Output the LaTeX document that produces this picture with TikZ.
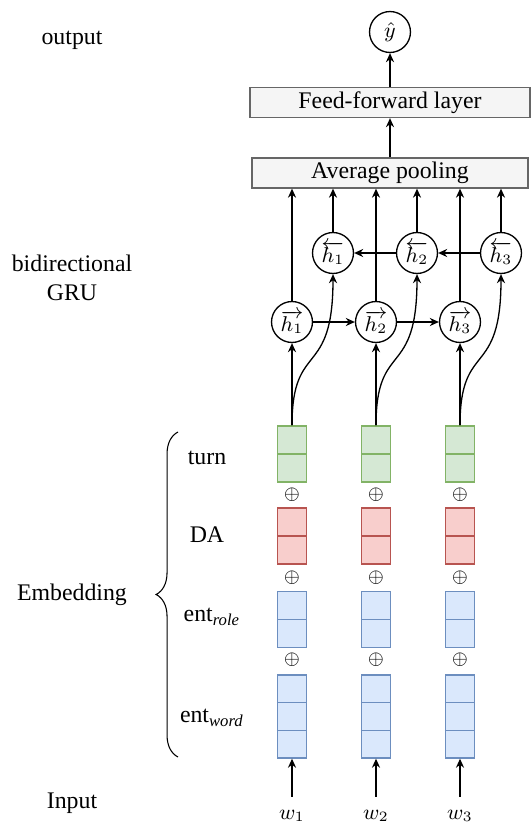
\documentclass[tikz,border=0pt]{standalone}
\usepackage{fontspec}
\setmainfont{Liberation Serif}
\usetikzlibrary{arrows.meta,decorations.pathreplacing}
\definecolor{grayf}{HTML}{F5F5F5}
\definecolor{grayd}{HTML}{666666}
\definecolor{greenf}{HTML}{D5E8D4}
\definecolor{greend}{HTML}{82B366}
\definecolor{redf}{HTML}{F8CECC}
\definecolor{redd}{HTML}{B85450}
\definecolor{bluef}{HTML}{DAE8FC}
\definecolor{blued}{HTML}{6C8EBF}

\begin{document}
\begin{tikzpicture}[x=0.42pt,y=-0.42pt,line width=0.55pt,
  txt/.style={font=\normalsize},
  mth/.style={font=\small},
  layer/.style={rectangle,draw=grayd,fill=grayf,minimum height=12.6pt,inner sep=0pt,txt},
  unit/.style={circle,draw,minimum size=17.2pt,inner sep=0pt,mth},
  vec/.style={rectangle,minimum width=12.2pt,inner sep=0pt},
  plus/.style={inner sep=0pt,font=\footnotesize},
  arr/.style={-{Stealth[length=3.8pt,width=3.4pt]}}]
\useasboundingbox (0,0) rectangle (531,827);
\node[unit] (yhat) at (390,32) {$\hat{y}$};
\node[layer,minimum width=117.6pt] (ff) at (390,102.5) {Feed-forward layer};
\node[layer,minimum width=115.9pt] (pool) at (390,173) {Average pooling};
\draw[arr] (ff) -- (yhat);
\draw[arr] (pool) -- (ff);
\foreach \i/\x in {1/292,2/376,3/460} {
  \node[unit] (f\i) at (\x,322) {$\overrightarrow{h_\i}$};
  \node[unit] (b\i) at (\x+41,253) {$\overleftarrow{h_\i}$};
  \node[vec,draw=greend,fill=greenf,minimum height=23.5pt] (t\i) at (\x,454) {};
  \draw[greend] (t\i.west) -- (t\i.east);
  \node[plus] (pa\i) at (\x,495) {$\oplus$};
  \node[vec,draw=redd,fill=redf,minimum height=23.5pt] (d\i) at (\x,536) {};
  \draw[redd] (d\i.west) -- (d\i.east);
  \node[plus] (pb\i) at (\x,578) {$\oplus$};
  \node[vec,draw=blued,fill=bluef,minimum height=23.5pt] (r\i) at (\x,619.5) {};
  \draw[blued] (r\i.west) -- (r\i.east);
  \node[plus] (pc\i) at (\x,660) {$\oplus$};
  \node[vec,draw=blued,fill=bluef,minimum height=34.9pt] (e\i) at (\x,716.5) {};
  \draw[blued] ([yshift=5.8pt]e\i.west) -- ([yshift=5.8pt]e\i.east)
    ([yshift=-5.8pt]e\i.west) -- ([yshift=-5.8pt]e\i.east);
  \node[mth] (w\i) at (\x,816) {$w_\i$};
  \draw[arr] ([yshift=2pt]w\i.north) -- (e\i);
  \draw[arr] (t\i.north) -- (f\i.south);
  \draw[arr] (t\i.north) .. controls +(0,-86) and +(0,106) .. (b\i.south);
  \draw[arr] (f\i.north) -- (f\i.north |- pool.south);
  \draw[arr] (b\i.north) -- (b\i.north |- pool.south);
}
\draw[arr] (f1) -- (f2);
\draw[arr] (f2) -- (f3);
\draw[arr] (b3) -- (b2);
\draw[arr] (b2) -- (b1);
% labels on the left
\node[txt] (lout) at (72,40) {output};
\node[txt,align=center] (lgru) at (72,278) {bidirectional\\GRU};
\node[txt] (lemb) at (72,595) {Embedding};
\node[txt] (lin) at (72,803) {Input};
\node[txt] (lturn) at (207,458) {turn};
\node[txt] (lda) at (207,535) {DA};
\node[txt] (lrole) at (212,617) {ent\textsubscript{\textit{role}}};
\node[txt] (lword) at (212,718) {ent\textsubscript{\textit{word}}};
\coordinate (bt) at (178,432);
\coordinate (bb) at (178,757);
\draw[line width=0.45pt,decorate,decoration={brace,amplitude=9.2pt}] (bb) -- (bt);
\end{tikzpicture}
\end{document}
